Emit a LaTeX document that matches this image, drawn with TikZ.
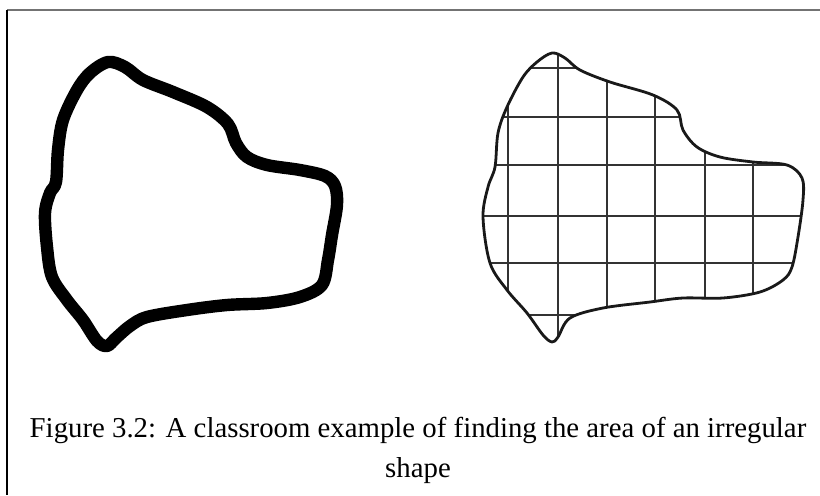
\documentclass[tikz,border=0pt]{standalone}
\usepackage{fontspec}
\setmainfont{Liberation Serif}
\usetikzlibrary{positioning}

% outline of the gridded shape, used for the clip and for the stroke
\newcommand{\gridshape}{plot[smooth cycle,tension=0.55] coordinates {
    (552,53) (565,58) (580,70) (610,82) (653,95) (677,110) (683,130)
    (697,147) (720,157) (753,162) (787,165) (802,178) (803,200) (798,237)
    (792,267) (783,280) (760,292) (723,298) (683,298) (650,302) (603,308)
    (570,318) (558,337) (552,342) (543,335) (527,313) (507,290) (490,263)
    (483,217) (488,187) (495,167) (498,133) (507,107) (523,77) (537,62)}}

\begin{document}
\begin{tikzpicture}[
            x=0.5pt, y=-0.5pt,
            frame/.style={line width=0.75pt},
            fat/.style={line width=6.2pt,line join=round},
            outline/.style={line width=1.4pt,black!90},
            gridline/.style={line width=0.8pt,black!80},
            captext/.style={font=\fontsize{14.4}{20}\selectfont,inner sep=0pt}
        ]
        \useasboundingbox (0,0) rectangle (820,495);

        % box round the figure
        \coordinate (tl) at (7,10);
        \coordinate (tr) at (820,10);
        \coordinate (bl) at (7,495);
        \draw[frame,black!55] (tl) -- (tr);
        \draw[frame] (tl) -- (bl);

        % left: bare outline
        \draw[fat] plot[smooth cycle,tension=0.55] coordinates {
            (56,182) (50,193) (45,213) (47,247) (52,277) (67,300) (83,320)
            (97,341) (107,346) (116,338) (130,326) (147,317) (187,310)
            (227,305) (267,303) (300,297) (322,285) (328,260) (332,235)
            (337,205) (335,186) (325,176) (300,170) (267,165) (247,157)
            (236,143) (228,124) (207,107) (173,92) (143,80) (125,67)
            (108,62) (90,73) (77,90) (63,120) (58,150)};

        % right: outline with unit squares
        \begin{scope}
            \clip \gridshape;
            \foreach \gx in {508,558,607,655,705,753}
                \draw[gridline] (\gx,40) -- (\gx,350);
            \foreach \gy in {68,117,165,216,263,315}
                \draw[gridline] (470,\gy) -- (815,\gy);
        \end{scope}
        \draw[outline] \gridshape;

        \node[captext,anchor=base] (capline1) at (418,437)
            {Figure 3.2: A classroom example of finding the area of an irregular};
        \node[captext,anchor=base] (capline2) at (418,477) {shape};

\end{tikzpicture}
\end{document}
